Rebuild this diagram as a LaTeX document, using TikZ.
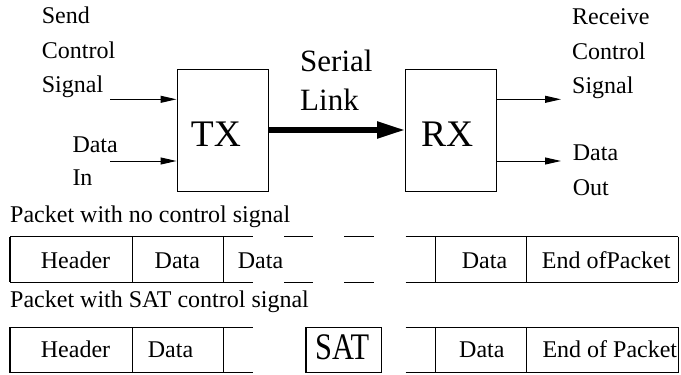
\documentclass[tikz,border=0pt]{standalone}
\usepackage{fontspec}
\usepackage{graphicx}
\setmainfont{Liberation Serif}
\usetikzlibrary{arrows.meta}

\tikzset{
  lbl/.style={inner sep=0pt, anchor=base west, font=\fontsize{24}{28}\selectfont},
  big/.style={inner sep=0pt, anchor=base west, font=\fontsize{31}{36}\selectfont},
  huge/.style={inner sep=0pt, anchor=base west, font=\fontsize{37.5}{42}\selectfont},
  unit/.style={draw, line width=1pt, minimum width=91pt, minimum height=122pt, inner sep=0pt},
  thin/.style={line width=1pt, -{Triangle[length=16pt,width=7pt]}},
  link/.style={line width=5.3pt, -{Triangle[length=28pt,width=16pt]}},
  frame/.style={line width=1.1pt}
}

\begin{document}
\begin{tikzpicture}[x=1pt,y=-1pt]
\useasboundingbox (0,0) rectangle (681,375);

% transmitter and receiver
\node[unit] (tx) at (222.5,130) {};
\node[unit] (rx) at (451,130) {};
\node[huge] (txl) at (190.7,146.7) {TX};
\node[huge] (rxl) at (421,146.7) {RX};

% serial link
\draw[link] (tx.east) -- (rx.west);
\node[big] (ser) at (300,71.7) {Serial};
\node[big] (lnk) at (300,110) {Link};

% inputs
\coordinate (cin) at (110,99.3);
\coordinate (din) at (110,161);
\draw[thin] (cin) -- (cin -| tx.west);
\draw[thin] (din) -- (din -| tx.west);
\node[lbl] (s1) at (41.7,23.3) {Send};
\node[lbl] (s2) at (41.7,58.7) {Control};
\node[lbl] (s3) at (41.7,92.7) {Signal};
\node[lbl] (d1) at (72.3,152.7) {Data};
\node[lbl] (d2) at (72.3,185) {In};

% outputs
\coordinate (cout) at (561,99.3);
\coordinate (dout) at (561,161);
\draw[thin] (cout -| rx.east) -- (cout);
\draw[thin] (dout -| rx.east) -- (dout);
\node[lbl] (r1) at (572,24) {Receive};
\node[lbl] (r2) at (572,59.3) {Control};
\node[lbl] (r3) at (572,93.3) {Signal};
\node[lbl] (o1) at (572.7,160.7) {Data};
\node[lbl] (o2) at (572.7,195) {Out};

% packet without control signal
\node[lbl] (p1) at (10,222.7) {Packet with no control signal};
\foreach \y in {236.7,282.3} {
  \draw[frame] (10,\y) -- (253.3,\y);
  \draw[frame] (284.3,\y) -- (313.3,\y);
  \draw[frame] (344,\y) -- (374.3,\y);
  \draw[frame] (405.7,\y) -- (678.3,\y);
}
\foreach \x in {10,132.3,223.3,435.7,526.7,678.3}
  \draw[frame] (\x,236.7) -- (\x,282.3);
\node[lbl] (h1) at (40.7,268.3) {Header};
\node[lbl] (a1) at (154.5,268.3) {Data};
\node[lbl] (a2) at (237.7,268.3) {Data};
\node[lbl] (a3) at (461.7,268.3) {Data};
\node[lbl] (e1) at (541.7,268.3) {End ofPacket};

% packet with SAT control signal
\node[lbl] (p2) at (10,307.7) {Packet with SAT control signal};
\foreach \y in {327.3,372.7} {
  \draw[frame] (10,\y) -- (252.7,\y);
  \draw[frame] (405.7,\y) -- (678.3,\y);
}
\foreach \x in {10,132.3,223.3,435.7,526.7,678.3}
  \draw[frame] (\x,327.3) -- (\x,372.7);
\node[draw, frame, minimum width=75.7pt, minimum height=45.4pt, inner sep=0pt] (sat) at (343.85,350) {};
\node[huge] (satl) at (315,359.3) {\scalebox{0.81}[1]{SAT}};
\node[lbl] (h2) at (40.7,357.3) {Header};
\node[lbl] (b1) at (147.7,357.3) {Data};
\node[lbl] (b2) at (459,357.3) {Data};
\node[lbl] (e2) at (542.3,357.3) {End of Packet};
\end{tikzpicture}
\end{document}
